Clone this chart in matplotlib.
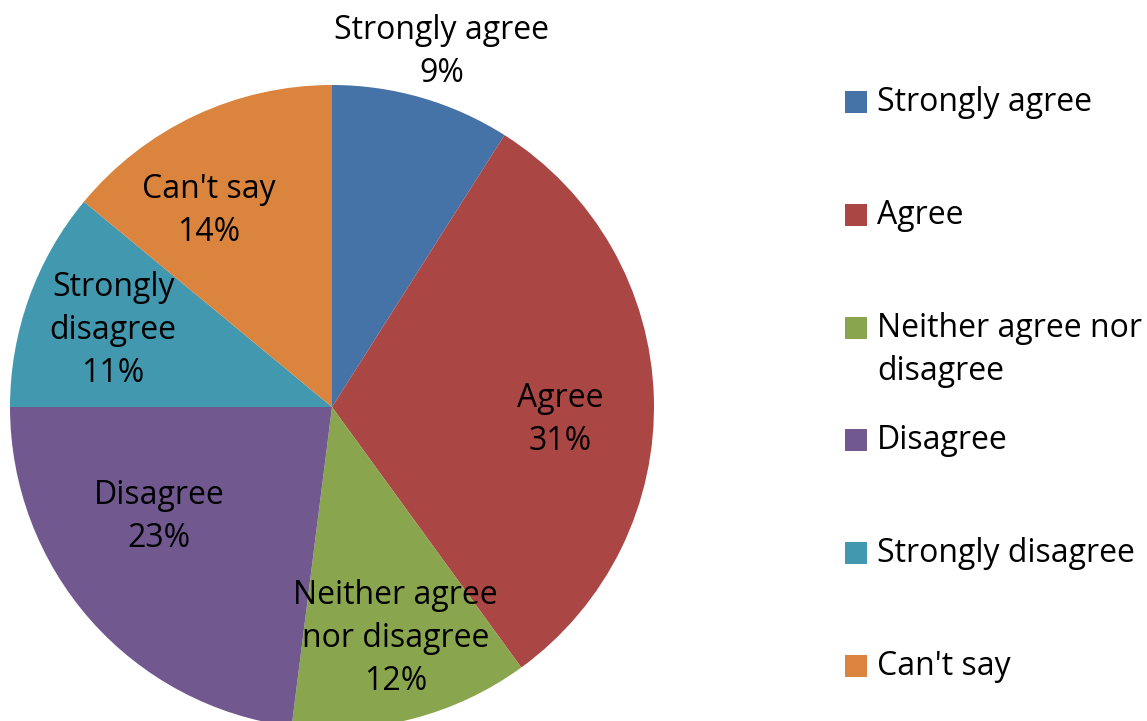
"""
Survey responses pie chart
"""
import numpy as np
import matplotlib
matplotlib.use("Agg")
import matplotlib.pyplot as plt
import matplotlib.patches as patches

plt.rcParams['font.family'] = ['Open Sans', 'DejaVu Sans']

# response categories and shares (%)
categories = ['Strongly agree', 'Agree', 'Neither agree nor disagree',
              'Disagree', 'Strongly disagree', "Can't say"]
shares = [9, 31, 12, 23, 11, 14]
# wrapped text used on the slices and in the legend
slice_texts = ['Strongly agree', 'Agree', 'Neither agree\nnor disagree',
               'Disagree', 'Strongly\ndisagree', "Can't say"]
legend_texts = ['Strongly agree', 'Agree', 'Neither agree nor\ndisagree',
                'Disagree', 'Strongly disagree', "Can't say"]
colors = ['#4572A7', '#AA4643', '#89A54E', '#71588F', '#4198AF', '#DB843D']

# label placement: distance (fraction of radius) and angle nudge (deg, clockwise)
label_dist = [1.153, 0.71, 0.745, 0.635, 0.72, 0.72]
label_nudge = [1, 5, -1, 9, -0.5, -7]

W, H = 1147, 721
fig = plt.figure(figsize=(W / 100, H / 100), dpi=100)
ax = fig.add_axes([0, 0, 1, 1])

cx, cy, r = 332, H - 407, 322
wedges, _ = ax.pie(shares, colors=colors, startangle=90, counterclock=False,
                   center=(cx, cy), radius=r, frame=True)
ax.set_xlim(0, W)
ax.set_ylim(0, H)
ax.set_aspect('equal')
ax.axis('off')

fs = 23
ls = 1.4
for w, txt, val, d, nd in zip(wedges, slice_texts, shares, label_dist, label_nudge):
    mid = np.deg2rad((w.theta1 + w.theta2) / 2 - nd)
    x = cx + d * r * np.cos(mid)
    y = cy + d * r * np.sin(mid)
    ax.text(x, y, f'{txt}\n{val}%', ha='center', va='center', fontsize=fs,
            color='black', linespacing=ls)

# legend drawn as squares and text on the right
lx, ly0, step = 845, H - 102, 112.8
for i, (txt, c) in enumerate(zip(legend_texts, colors)):
    y = ly0 - i * step
    ax.add_patch(patches.Rectangle((lx, y - 11), 22, 22, facecolor=c,
                                   edgecolor='none'))
    ax.text(lx + 32, y + 16, txt, ha='left', va='top', fontsize=fs,
            color='black', linespacing=ls)

fig.savefig('out.png', dpi=100)
